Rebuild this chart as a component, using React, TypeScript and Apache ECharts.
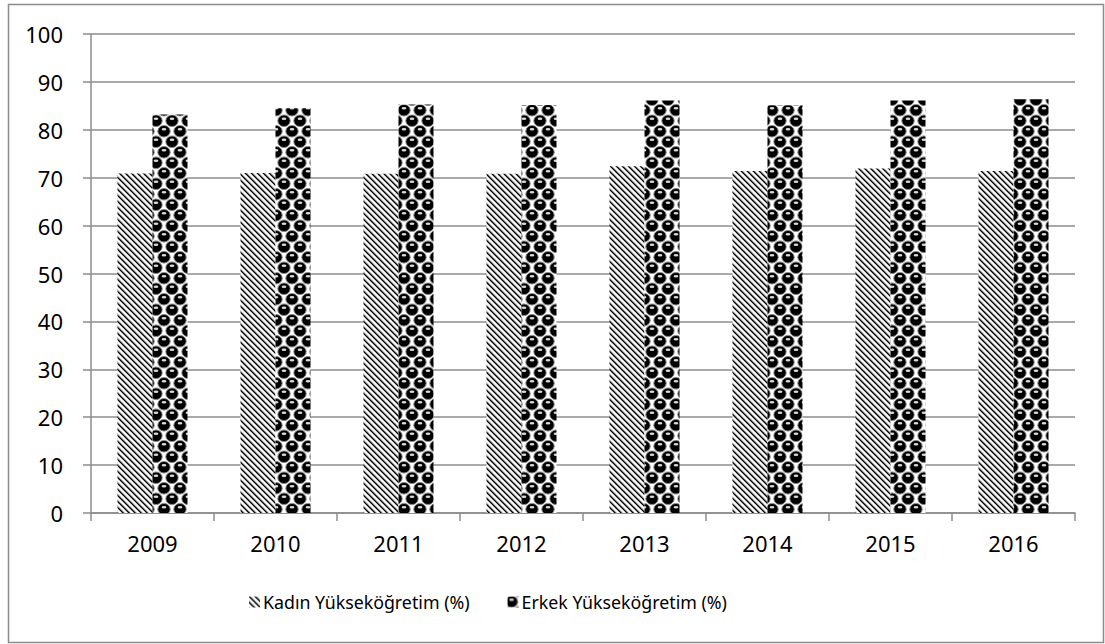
import React, { useEffect, useRef } from "react";
import * as echarts from "echarts";

const categories = ["2009", "2010", "2011", "2012", "2013", "2014", "2015", "2016"];
const kadinValues = [70.9, 71.0, 70.8, 70.8, 72.4, 71.4, 71.9, 71.4];
const erkekValues = [83.2, 84.5, 85.3, 85.2, 86.1, 85.1, 86.1, 86.4];
const seriesNames = ["Kadın Yükseköğretim (%)", "Erkek Yükseköğretim (%)"];
const yMin = 0;
const yMax = 100;
const yInterval = 10;

function makeStripeTile(): HTMLCanvasElement {
  const s = 6;
  const c = document.createElement("canvas");
  c.width = s;
  c.height = s;
  const ctx = c.getContext("2d")!;
  const img = ctx.createImageData(s, s);
  for (let y = 0; y < s; y++) {
    for (let x = 0; x < s; x++) {
      const d = (((x - y) % s) + s) % s;
      let v = 255;
      if (d === 0) v = 0;
      else if (d === 1) v = 90;
      else if (d === 2) v = 200;
      else if (d === 5) v = 170;
      const i = (y * s + x) * 4;
      img.data[i] = v;
      img.data[i + 1] = v;
      img.data[i + 2] = v;
      img.data[i + 3] = 255;
    }
  }
  ctx.putImageData(img, 0, 0);
  return c;
}

function makeBallTile(): HTMLCanvasElement {
  const W = 16;
  const H = 21;
  const c = document.createElement("canvas");
  c.width = W;
  c.height = H;
  const ctx = c.getContext("2d")!;
  ctx.fillStyle = "#ffffff";
  ctx.fillRect(0, 0, W, H);
  const centers = [
    [4, 5.25],
    [12, 15.75],
  ];
  const offs = [-1, 0, 1];
  for (const [cx0, cy0] of centers) {
    for (const ox of offs) {
      for (const oy of offs) {
        const cx = cx0 + ox * W;
        const cy = cy0 + oy * H;
        ctx.beginPath();
        ctx.ellipse(cx, cy, 6.2, 5.8, 0, 0, Math.PI * 2);
        ctx.fillStyle = "#000000";
        ctx.fill();
        ctx.lineWidth = 1;
        ctx.strokeStyle = "#8a8a8a";
        ctx.stroke();
        ctx.beginPath();
        ctx.ellipse(cx, cy - 2, 2.4, 1.2, 0, 0, Math.PI * 2);
        ctx.fillStyle = "#d8d8d8";
        ctx.fill();
      }
    }
  }
  return c;
}

export default function App() {
  const ref = useRef<HTMLDivElement>(null);

  useEffect(() => {
    if (!ref.current) return;
    const chart = echarts.init(ref.current, undefined, { renderer: "svg" });
    const stripe = makeStripeTile();
    const ball = makeBallTile();
    const font = "'Noto Sans', 'Open Sans', sans-serif";
    const gridColor = "#8c8c8c";

    chart.setOption({
      animation: false,
      backgroundColor: "#ffffff",
      textStyle: { fontFamily: font },
      grid: { left: 91, right: 30, top: 34, bottom: 131, containLabel: false },
      legend: {
        left: 244,
        top: 588,
        itemWidth: 11,
        itemHeight: 11,
        itemGap: 38,
        icon: "rect",
        textStyle: { fontFamily: font, fontSize: 17.8, color: "#000000", padding: [0, 0, 0, -2] },
        data: seriesNames,
      },
      xAxis: {
        type: "category",
        data: categories,
        axisLine: { show: true, lineStyle: { color: gridColor, width: 1.5 } },
        axisTick: { show: true, length: 8, lineStyle: { color: gridColor, width: 1.5 } },
        axisLabel: { color: "#000000", fontSize: 22, margin: 19, fontFamily: font },
        splitLine: { show: false },
      },
      yAxis: {
        type: "value",
        min: yMin,
        max: yMax,
        interval: yInterval,
        axisLine: { show: true, lineStyle: { color: gridColor, width: 1.5 } },
        axisTick: { show: true, length: 8, lineStyle: { color: gridColor, width: 1.5 } },
        axisLabel: { color: "#000000", fontSize: 22, margin: 28, fontFamily: font },
        splitLine: { show: true, lineStyle: { color: gridColor, width: 1.5 } },
      },
      series: [
        {
          name: seriesNames[0],
          type: "bar",
          data: kadinValues,
          barWidth: 35,
          barGap: "0%",
          itemStyle: {
            color: { image: stripe, repeat: "repeat", imageWidth: 6, imageHeight: 6 },
          },
        },
        {
          name: seriesNames[1],
          type: "bar",
          data: erkekValues,
          barWidth: 35,
          barGap: "0%",
          itemStyle: {
            color: { image: ball, repeat: "repeat", imageWidth: 16, imageHeight: 21 },
          },
        },
      ],
      graphic: [
        {
          type: "rect",
          silent: true,
          shape: { x: 8.5, y: 4.5, width: 1095, height: 638 },
          style: { fill: "none", stroke: "#8c8c8c", lineWidth: 1.5 },
        },
      ],
    });

    return () => {
      chart.dispose();
    };
  }, []);

  return (
    <div
      ref={ref}
      style={{ position: "absolute", left: 0, top: 0, width: 1105, height: 644 }}
    />
  );
}
